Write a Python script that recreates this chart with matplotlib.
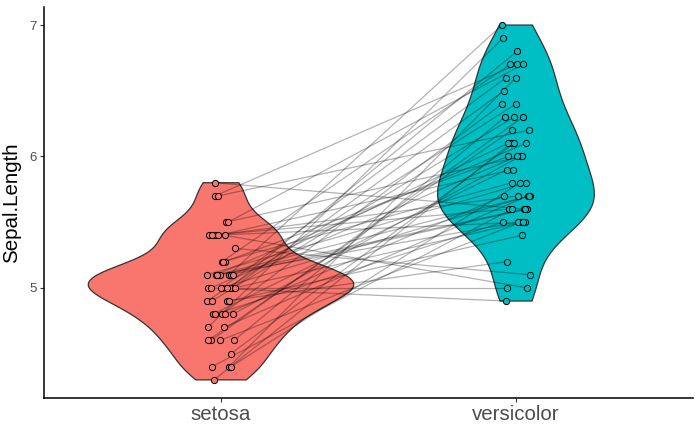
import numpy as np
import matplotlib
matplotlib.use("Agg")
import matplotlib.pyplot as plt

plt.rcParams['font.family'] = ['Liberation Sans', 'DejaVu Sans']

# iris Sepal.Length, gepaart nach zeilennummer
species = ["setosa", "versicolor"]
farben = ["#F8766D", "#00BFC4"]

setosa = [5.1, 4.9, 4.7, 4.6, 5.0, 5.4, 4.6, 5.0, 4.4, 4.9,
          5.4, 4.8, 4.8, 4.3, 5.8, 5.7, 5.4, 5.1, 5.7, 5.1,
          5.4, 5.1, 4.6, 5.1, 4.8, 5.0, 5.0, 5.2, 5.2, 4.7,
          4.8, 5.4, 5.2, 5.5, 4.9, 5.0, 5.5, 4.9, 4.4, 5.1,
          5.0, 4.5, 4.4, 5.0, 5.1, 4.8, 5.1, 4.6, 5.3, 5.0]
versicolor = [7.0, 6.4, 6.9, 5.5, 6.5, 5.7, 6.3, 4.9, 6.6, 5.2,
              5.0, 5.9, 6.0, 6.1, 5.6, 6.7, 5.6, 5.8, 6.2, 5.6,
              5.9, 6.1, 6.3, 6.1, 6.4, 6.6, 6.8, 6.7, 6.0, 5.7,
              5.5, 5.5, 5.8, 6.0, 5.4, 6.0, 6.7, 6.3, 5.6, 5.5,
              5.5, 6.1, 5.8, 5.0, 5.6, 5.7, 5.7, 6.2, 5.1, 5.7]

# jitter (in pixel, 295 px = 1 kategorie)
jitter_setosa = [8, -14, -13, -1, 12, -6, 13, -13, 8, 6,
                 4, -8, 12, -7, -6, -6, -12, -14, -3, 10,
                 -3, -5, -10, 12, 1, 1, 9, 1, 4, 3,
                 -6, -9, 2, 5, 8, -10, 7, -9, -9, -3,
                 14, 10, 10, 6, -1, 4, -4, -13, 14, 0]
jitter_versicolor = [-14, 0, -13, 5, -12, 2, -11, -10, 0, -9,
                     11, -9, 4, -5, 8, 1, -7, 10, 13, 11,
                     -3, 10, 7, -8, -14, -10, 1, -6, -8, 12,
                     -13, 9, -4, 6, 6, 1, 7, -2, -4, 2,
                     7, -2, 4, -9, 9, -12, 14, -4, 14, 13]


def bw_nrd0(x):
    x = np.asarray(x)
    q75, q25 = np.percentile(x, [75, 25])
    lo = min(np.std(x, ddof=1), (q75 - q25) / 1.34)
    return 0.9 * lo * len(x) ** (-0.2)


def dichte(x, n=512):
    x = np.asarray(x)
    bw = bw_nrd0(x)
    y = np.linspace(x.min(), x.max(), n)
    d = np.exp(-0.5 * ((y[:, None] - x[None, :]) / bw) ** 2).sum(axis=1)
    d = d / (len(x) * bw * np.sqrt(2 * np.pi))
    return y, d


fig = plt.figure(figsize=(7, 4.32), dpi=100)
ax = fig.add_axes([0.0629, 0.0796, 0.927, 0.9035])

werte = [setosa, versicolor]
dichten = [dichte(w) for w in werte]
dmax = max(d.max() for _, d in dichten)

for i, (y, d) in enumerate(dichten):
    pos = i + 1
    hw = 0.45 * d / dmax
    xs = np.concatenate([pos - hw, (pos + hw)[::-1]])
    ys = np.concatenate([y, y[::-1]])
    ax.fill(xs, ys, facecolor=farben[i], edgecolor="#333333", linewidth=0.9, zorder=1)

xs1 = 1 + np.array(jitter_setosa) / 295.0
xs2 = 2 + np.array(jitter_versicolor) / 295.0
for a, b, ya, yb in zip(xs1, xs2, setosa, versicolor):
    ax.plot([a, b], [ya, yb], color="black", alpha=0.3, linewidth=0.9, zorder=2)

ax.scatter(xs1, setosa, s=20, facecolor=farben[0], edgecolor="black", linewidth=0.7, zorder=3)
ax.scatter(xs2, versicolor, s=20, facecolor=farben[1], edgecolor="black", linewidth=0.7, zorder=3)

ax.set_xlim(0.4, 2.6)
ax.set_ylim(4.165, 7.135)
ax.set_xticks([1, 2])
ax.set_xticklabels(species)
ax.set_yticks([5, 6, 7])
ax.set_ylabel("Sepal.Length", fontsize=14.8)
ax.yaxis.set_label_coords(-0.036, 0.5)

for s in ["top", "right"]:
    ax.spines[s].set_visible(False)
for s in ["left", "bottom"]:
    ax.spines[s].set_linewidth(1.1)
    ax.spines[s].set_color("black")
ax.tick_params(axis="y", labelsize=9.5, labelcolor="#4D4D4D", color="#333333", length=3, width=0.8, pad=2)
ax.tick_params(axis="x", labelsize=14.8, labelcolor="#4D4D4D", color="#333333", length=3, width=0.8, pad=2)

fig.savefig("out.png", dpi=100)
